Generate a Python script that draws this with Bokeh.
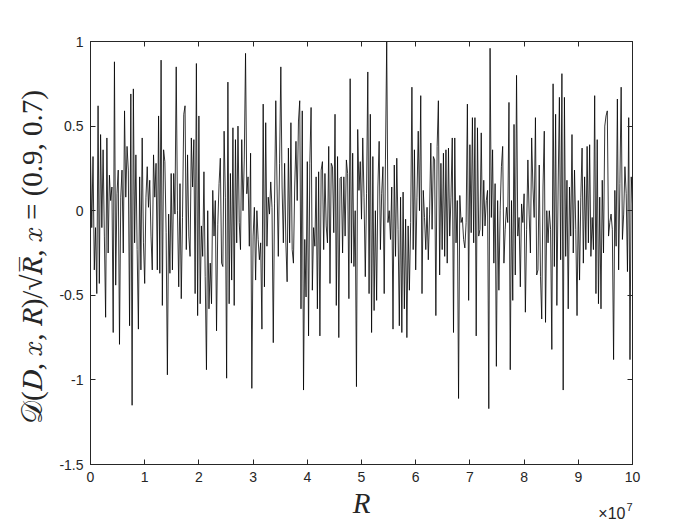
import numpy as np
from bokeh.plotting import figure
from bokeh.models import Range1d, FixedTicker, LinearAxis, CustomJSTickFormatter, Label
from bokeh.embed import file_html
from bokeh.resources import INLINE

# Values, left to right (D / sqrt(R))
seg_a = [0.33, -0.1, 0.32, -0.35, -0.1, -0.49, 0.62, -0.43, 0.45, -0.1, 0.36, -0.15, -0.63, 0.43,
         -0.25, 0.21, 0.06, 0.14, -0.72, 0.88, -0.44, 0.1, 0.24, -0.79, 0.08, 0.24, -0.25, 0.59,
         0.08, 0.38, 0.24, -0.68, 0.69, -1.15, 0.72, -0.19, 0.33, -0.23, -0.7, 0.2, -0.35, 0.43,
         -0.19, -0.43, 0.08, 0.26, 0.02, 0.18, -0.15, -0.35, 0.33, 0.08, 0.28, -0.35, 0.56, -0.37,
         0.89, -0.56, 0.36, 0.29, -0.13, -0.97, -0.02, -0.37, 0.22]
seg_b = [-0.35, 0.22, -0.02, 0.85, 0.0, -0.45, 0.16, -0.52, -0.04, 0.57, 0.62, -0.23, 0.33, -0.15,
         -0.27, 0.43, 0.14, 0.42, -0.49, 0.87, -0.62, 0.56, -0.55, -0.09, -0.27, 0.23, -0.39, -0.94,
         0.0, -0.58, -0.31, -0.55, 0.12, -0.15, 0.06, -0.71, -0.08, 0.16, 0.31, -0.31, -0.33, 0.47,
         0.08, -0.99, 0.76, -0.55, 0.22, -0.41, 0.49, -0.56, 0.42, -0.19, 0.5, -0.07, -0.23, 0.42,
         0.0, 0.3, 0.93, 0.1, 0.2, -0.21, 0.34, -1.05, -0.15, 0.02, -0.41, 0.0, -0.17, -0.29, -0.19,
         -0.7]
seg_c = [0.63, -0.45, 0.52, -0.21, 0.08, -0.02, 0.17, 0.02, -0.78, 0.04, 0.65, 0.14, -0.27, 0.28,
         0.85, 0.14, -0.19, 0.28, -0.19, -0.42, 0.37, -0.19, 0.52, -0.23, -0.31, 0.14, 0.41, 0.06,
         0.53, 0.65, -0.58, 0.59, -1.06, -0.17, -0.51, 0.29, -0.74, 0.28, 0.61, -0.47, -0.1, -0.21,
         0.2, -0.58, 0.23, -0.74, 0.24, 0.29, -0.23, 0.22, -0.09, -0.19, 0.38, -0.43, 0.28, 0.26,
         -0.13, 0.57, -0.56, 0.32, -0.75, 0.19, 0.2, -0.25, 0.2, -0.15, 0.3, 0.22, -0.52, 0.78,
         -0.31, 0.34, -0.33, 0.0, -1.04, 0.48]
seg_d = [0.12, 0.29, -0.05, 0.43, 0.08, -0.39, 0.1, 0.82, -0.49, 0.57, -0.72, 0.32, -0.59, 0.0,
         -0.53, 0.14, 0.41, -0.23, 0.1, 0.26, -0.49, 0.3, 1.0, -0.07, 0.0, -0.17, 0.14, -0.7, 0.27,
         -0.27, 0.31, -0.11, -0.68, 0.08, -0.72, 0.11, -0.58, -0.05, -0.75, -0.09, -0.47, -0.07,
         0.73, -0.23, 0.36, -0.35, 0.08, 0.47, 0.0, 0.68, -0.49, 0.12, -0.04, -0.23, 0.02, -0.29,
         -0.02, 0.4, -0.11, 0.32, 0.3, -0.62, 0.38, 0.65, -0.38, 0.28, -0.23, 0.34, -0.27, 0.36]
seg_e = [-0.31, 0.37, -0.15, 0.08, 0.43, -0.72, 0.43, -0.19, 0.06, -1.11, 0.09, -0.07, -0.04,
         -0.17, -0.22, -0.07, 0.63, -0.53, 0.39, -0.13, 0.55, -0.19, 0.55, -0.74, 0.49, -0.15,
         -0.11, 0.46, -0.15, 0.18, -0.09, 0.06, 0.12, -1.17, 0.96, -0.04, 0.36, -0.31, 0.16, -0.92,
         0.06, -0.47, 0.0, 0.26, 0.38, -0.31, -0.11, 0.02, -0.07, 0.64, -0.94, 0.06, -0.53, 0.51,
         -0.38, 0.8, -0.15, -0.04, -0.45, 0.04, -0.07, 0.1, -0.6, -0.11, 0.3, -0.02, -0.25, 0.43,
         0.14, -0.04, 0.55, -0.38]
seg_f = [-0.35, 0.27, -0.39, -0.64, 0.14, 0.47, -0.66, 0.0, -0.19, 0.0, -0.11, -0.82, 0.75, -0.33,
         0.57, -0.56, 0.14, 0.67, -0.29, 0.81, -1.06, 0.67, -0.27, 0.18, -0.58, 0.14, -0.15, 0.45,
         -0.25, 0.24, -0.11, -0.62, 0.06, -0.41, 0.08, 0.37, -0.31, 0.2, -0.23, 0.38, -0.19, 0.39,
         -0.27, -0.04, -0.23, 0.68, -0.49, 0.42, -0.55, 0.08, -0.58, 0.18, -0.25, 0.5, 0.56, 0.59,
         -0.15, -0.07, -0.02, -0.11, -0.88, 0.12, -0.21, 0.66, -0.35, 0.16, 0.73, -0.17, -0.02,
         0.26, 0.1, -0.36, 0.55, -0.88, 0.2, 0.04]

R_max = 1e8
x_ticks = [0, 1e7, 2e7, 3e7, 4e7, 5e7, 6e7, 7e7, 8e7, 9e7, 1e8]
y_ticks = [-1.5, -1, -0.5, 0, 0.5, 1]

D = np.array(seg_a + seg_b + seg_c + seg_d + seg_e + seg_f)
R = np.linspace(0, R_max, len(D))

AX = "#262626"
W, H = 696, 521
p = figure(width=W, height=H, output_backend="svg", toolbar_location=None,
           x_range=Range1d(0, R_max), y_range=Range1d(-1.5, 1),
           min_border_left=90, min_border_right=64, min_border_top=41, min_border_bottom=54)
p.background_fill_color = "white"
p.border_fill_color = "white"
p.grid.visible = False
p.outline_line_color = AX
p.outline_line_width = 1

p.line(R, D, line_color="black", line_width=0.8)

xfmt = CustomJSTickFormatter(code="return (tick/1e7).toFixed(0);")
yfmt = CustomJSTickFormatter(code="return tick.toString();")
blank = CustomJSTickFormatter(code="return '';")

def style(ax):
    ax.major_tick_in = 5
    ax.major_tick_out = 0
    ax.minor_tick_line_color = None
    ax.axis_line_color = AX
    ax.major_tick_line_color = AX
    ax.major_label_text_color = AX
    ax.major_label_text_font = "Liberation Sans"
    ax.major_label_text_font_size = "14px"
    ax.major_label_standoff = 7

xa = p.xaxis[0]
xa.ticker = FixedTicker(ticks=x_ticks)
xa.formatter = xfmt
style(xa)
xa.axis_label = "R"
xa.axis_label_text_font = "Liberation Serif"
xa.axis_label_text_font_style = "italic"
xa.axis_label_text_font_size = "29px"
xa.axis_label_text_color = AX
xa.axis_label_standoff = 2

ya = p.yaxis[0]
ya.ticker = FixedTicker(ticks=y_ticks)
ya.formatter = yfmt
style(ya)
ya.axis_label = "𝒟(𝐷, 𝑥, 𝑅)/√𝑅̅, 𝑥 = (0.9, 0.7)"
ya.axis_label_text_font = "Liberation Serif"
ya.axis_label_text_font_style = "normal"
ya.axis_label_text_font_size = "29px"
ya.axis_label_text_color = AX
ya.axis_label_standoff = 8

top = LinearAxis(ticker=FixedTicker(ticks=x_ticks), formatter=blank)
style(top)
top.major_label_standoff = 0
p.add_layout(top, "above")
right = LinearAxis(ticker=FixedTicker(ticks=y_ticks), formatter=blank)
style(right)
right.major_label_standoff = 0
p.add_layout(right, "right")

# exponent note under the right end of the x axis (kept in the right side panel so it is not clipped)
p.add_layout(Label(x=R_max, y=-1.5, x_offset=-7, y_offset=-49, text="×10",
                   text_align="right", text_baseline="alphabetic",
                   text_font="Liberation Sans", text_font_size="16px", text_color=AX), "right")
p.add_layout(Label(x=R_max, y=-1.5, x_offset=0, y_offset=-42, text="7",
                   text_align="right", text_baseline="alphabetic",
                   text_font="Liberation Sans", text_font_size="11px", text_color=AX), "right")

open("out.html", "w").write(file_html(p, INLINE))
